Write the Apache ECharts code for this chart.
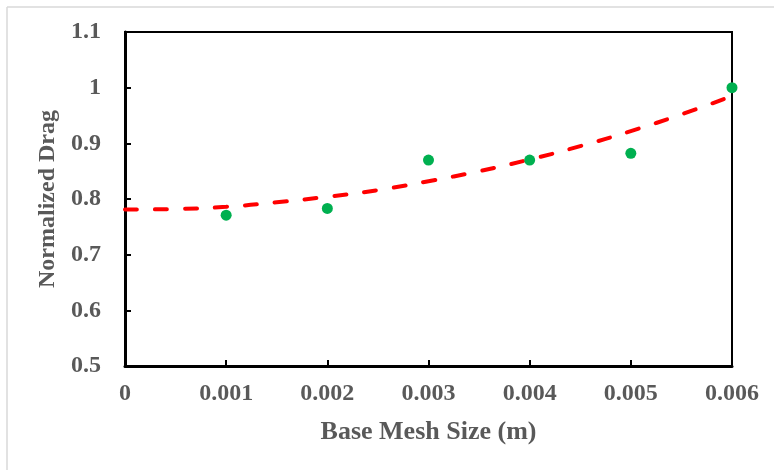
<!DOCTYPE html>
<html>
<head>
<meta charset="utf-8">
<script src="https://cdn.jsdelivr.net/npm/echarts@6/dist/echarts.min.js"></script>
<style>html,body{margin:0;padding:0;background:#fff;}#c{width:774px;height:470px;}</style>
</head>
<body>
<div id="c"></div>
<script>
// Data
const meshSizes = [0.001, 0.002, 0.003, 0.004, 0.005, 0.006];
const normalizedDrag = [0.771, 0.783, 0.870, 0.870, 0.882, 1.000];
// Polynomial (order 2) trendline
const trendX = [0, 0.0005, 0.001, 0.0015, 0.002, 0.0025, 0.003, 0.0035, 0.004, 0.0045, 0.005, 0.0055, 0.006];
const trendY = [0.781, 0.782, 0.786, 0.794, 0.804, 0.816, 0.832, 0.850, 0.871, 0.895, 0.922, 0.952, 0.985];
const xTickLabels = ['0', '0.001', '0.002', '0.003', '0.004', '0.005', '0.006'];
const yTickLabels = ['0.5', '0.6', '0.7', '0.8', '0.9', '1', '1.1'];
const xTitle = 'Base Mesh Size (m)';
const yTitle = 'Normalized Drag';

const FONT = '"Liberation Serif", "Times New Roman", serif';
const GRAY = '#595959';

const chart = echarts.init(document.getElementById('c'), null, {renderer: 'canvas'});
chart.setOption({
  animation: false,
  backgroundColor: '#ffffff',
  grid: {left: 125, right: 42, top: 32, bottom: 104, show: true, borderColor: '#000', borderWidth: 2, backgroundColor: 'transparent'},
  graphic: [
    {type: 'line', shape: {x1: 7, y1: 7, x2: 774, y2: 7}, style: {stroke: '#d9d9d9', lineWidth: 1.5}},
    {type: 'line', shape: {x1: 7, y1: 7, x2: 7, y2: 470}, style: {stroke: '#d9d9d9', lineWidth: 1.5}}
  ],
  xAxis: {
    type: 'value', min: 0, max: 0.006, interval: 0.001,
    name: xTitle, nameLocation: 'middle', nameGap: 53,
    nameTextStyle: {fontFamily: FONT, fontWeight: 'bold', fontSize: 26, color: GRAY},
    axisLine: {show: true, onZero: false, lineStyle: {color: '#000', width: 3}},
    axisTick: {show: true, inside: true, length: 6, lineStyle: {color: '#000', width: 2}},
    splitLine: {show: false},
    axisLabel: {
      margin: 16, fontFamily: FONT, fontWeight: 'bold', fontSize: 24, color: GRAY,
      formatter: function (v) { return xTickLabels[Math.round(v / 0.001)]; }
    }
  },
  yAxis: {
    type: 'value', min: 0.5, max: 1.1, interval: 0.1,
    name: yTitle, nameLocation: 'middle', nameGap: 64, nameRotate: 90,
    nameTextStyle: {fontFamily: FONT, fontWeight: 'bold', fontSize: 24, color: GRAY},
    axisLine: {show: true, onZero: false, lineStyle: {color: '#000', width: 3}},
    axisTick: {show: true, inside: true, length: 6, lineStyle: {color: '#000', width: 2}},
    splitLine: {show: false},
    axisLabel: {
      margin: 24, fontFamily: FONT, fontWeight: 'bold', fontSize: 24, color: GRAY,
      formatter: function (v) { return yTickLabels[Math.round((v - 0.5) / 0.1)]; }
    }
  },
  series: [
    {
      type: 'line', smooth: true, symbol: 'none', z: 2,
      data: trendX.map((x, i) => [x, trendY[i]]),
      lineStyle: {color: '#ff0000', width: 4, type: [12, 18], cap: 'round'}
    },
    {
      type: 'scatter', symbol: 'circle', symbolSize: 11, z: 3,
      data: meshSizes.map((x, i) => [x, normalizedDrag[i]]),
      itemStyle: {color: '#00b050', opacity: 1}
    }
  ]
});
</script>
</body>
</html>
